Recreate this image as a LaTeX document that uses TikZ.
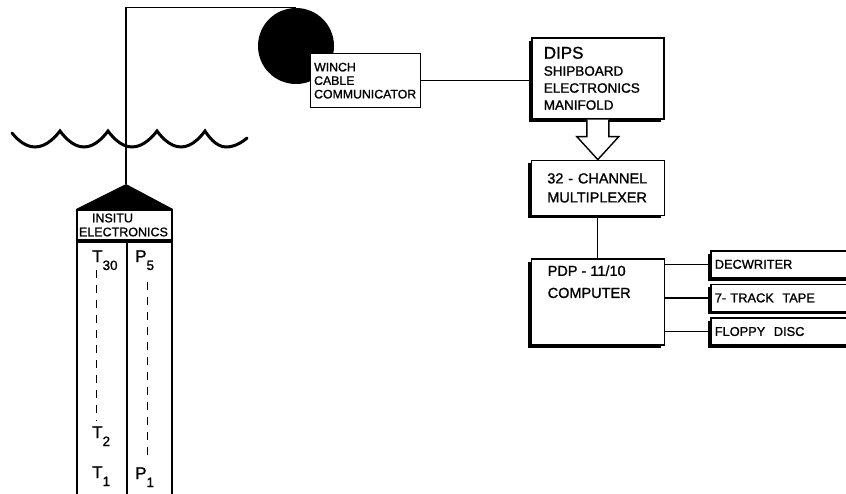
\documentclass[tikz,border=0pt]{standalone}
\usepackage{fontspec}
\setmainfont{Liberation Sans}[FakeBold=1.2]
\usetikzlibrary{positioning,calc,shadows}
\newcommand{\probelabel}[2]{#1\raisebox{-8pt}{\fontsize{13.5}{13}\selectfont #2}}
\tikzset{
unit/.style={draw,line width=1.6pt,fill=white,inner sep=0pt,align=left,
drop shadow={shadow xshift=-3pt,shadow yshift=-3pt,fill=black,opacity=1}},
dipsbox/.style={unit,minimum width=132pt,minimum height=81pt,text width=108pt,font=\fontsize{13.5}{17}\selectfont},
muxbox/.style={unit,minimum width=133pt,minimum height=55pt,text width=101pt,font=\fontsize{14.5}{19}\selectfont},
pdpbox/.style={unit,minimum width=133pt,minimum height=86pt},
outbox/.style={unit,minimum width=145pt,minimum height=27pt,text width=137pt,font=\fontsize{12.8}{13}\selectfont},
winchbox/.style={draw,line width=1.3pt,fill=white,inner sep=0pt,align=left,minimum width=110pt,minimum height=54pt,
text width=103pt,font=\fontsize{12.3}{13.5}\selectfont},
drum/.style={circle,fill=black,minimum size=76pt,inner sep=0pt},
probehead/.style={draw,line width=2pt,minimum width=95pt,minimum height=30pt,inner sep=0pt,align=left,
text width=91pt,font=\fontsize{12.5}{14}\selectfont},
probebody/.style={draw,line width=2pt,minimum width=95pt,minimum height=262pt,inner sep=0pt},
sensor/.style={anchor=base west,inner sep=0pt,font=\fontsize{17}{17}\selectfont},
sensorline/.style={line width=1pt,dash pattern=on 8pt off 7pt},
cable/.style={line width=1.3pt},
link/.style={line width=1.3pt},
wave/.style={line width=3pt,line cap=round},
hollow/.style={line width=1.4pt,fill=white,line join=miter}
}

\begin{document}
\begin{tikzpicture}[x=1pt,y=-1pt]
\useasboundingbox (0,0) rectangle (846,493);

% sea surface
\draw[wave] (12,133) parabola bend (35,147) (60,131) parabola bend (84,147) (108,131)
  parabola bend (132,147) (157,131) parabola bend (181,147) (205,131) parabola bend (226,147) (247,138);

% winch and cable
\node[drum] (drum) at (296,46) {};
\node[winchbox,anchor=north west] (winch) at (310,53) {WINCH\\CABLE\\COMMUNICATOR};

% in-situ probe
\node[probehead] (insitu) at (124.5,225) {\hspace*{13pt}INSITU\\ELECTRONICS};
\coordinate (apex) at ($(insitu.north)+(1.5,-25)$);
\fill (apex) -- (insitu.north east) -- (insitu.north west) -- cycle;
\draw[cable] (apex) |- (drum.north);
\node[probebody,below=0pt of insitu] (probe) {};
\draw[line width=2pt] ($(probe.north)+(2.5,0)$) -- ($(probe.south)+(2.5,0)$);

\node[sensor] (t30) at (92,262) {\probelabel{T}{30}};
\node[sensor] (p5) at (135,262) {\probelabel{P}{5}};
\node[sensor] (t2) at (92,438) {\probelabel{T}{2}};
\node[sensor] (t1) at (92,478) {\probelabel{T}{1}};
\node[sensor] (p1) at (135,479) {\probelabel{P}{1}};
\draw[sensorline] ($(t30.base west)+(4.5,8)$) -- ($(t2.north west)+(4.5,-6)$);
\draw[sensorline] ($(p5.base west)+(12,20)$) -- ($(p1.north west)+(12,-8)$);

% shipboard system
\node[dipsbox,anchor=north west] (dips) at (531,37) {{\fontsize{17}{17}\selectfont DIPS}\\SHIPBOARD\\ELECTRONICS\\MANIFOLD};
\node[muxbox,below=40pt of dips] (mux) {32 - CHANNEL\\MULTIPLEXER};
\node[pdpbox,below=42pt of mux,
  label={[anchor=north west,align=left,inner sep=0pt,xshift=17pt,yshift=-7pt,font=\fontsize{14.5}{22}\selectfont]north west:PDP - 11/10\\COMPUTER}] (pdp) {};

\node[outbox,anchor=north west] (decw) at (710,250) {DECWRITER};
\node[outbox,below=5pt of decw] (tape) {7- TRACK\ \ TAPE};
\node[outbox,below=5pt of tape] (floppy) {FLOPPY\ \ DISC};

\draw[link] (winch.east) -- (winch.east -| dips.west);
\draw[hollow] ($(dips.south)+(-11,0)$) -- ($(dips.south)+(-11,17)$) -- ($(dips.south)+(-21,17)$)
  -- (mux.north) -- ($(dips.south)+(21,17)$) -- ($(dips.south)+(11,17)$) -- ($(dips.south)+(11,0)$);
\draw[link] (mux) -- (pdp);
\draw[link] (decw.west) -- (decw.west -| pdp.east);
\draw[link] (tape.west) -- (tape.west -| pdp.east);
\draw[link] (floppy.west) -- (floppy.west -| pdp.east);
\end{tikzpicture}
\end{document}
